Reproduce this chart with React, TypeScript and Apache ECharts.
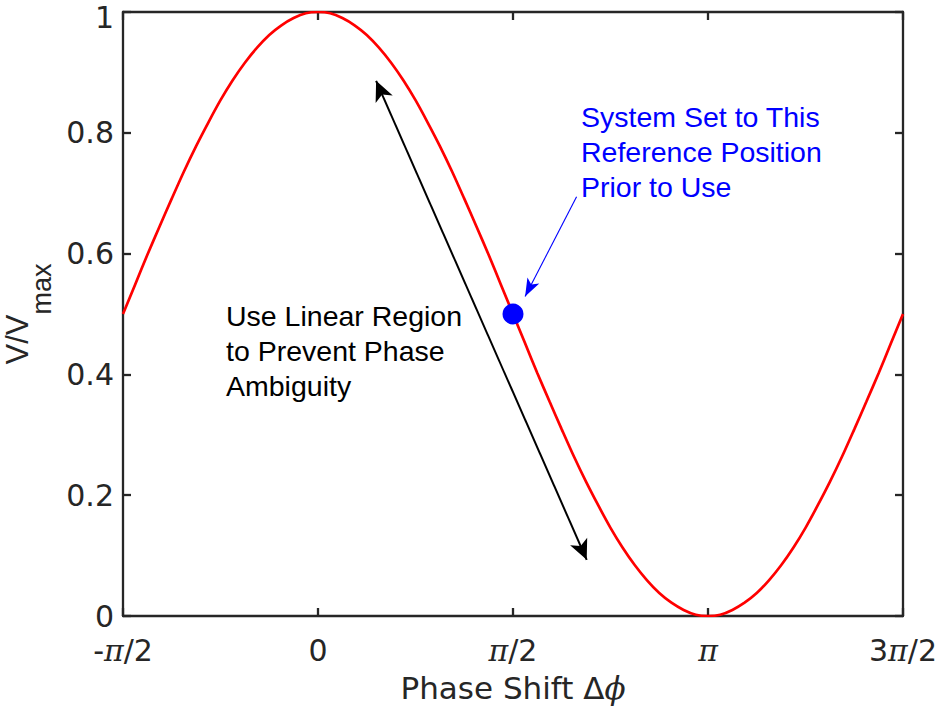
import React, { useEffect, useRef } from "react";
import * as echarts from "echarts";

// Phase shift (in units of π) and normalised voltage V/Vmax
const phase = [
  -0.5, -0.46875, -0.4375, -0.40625, -0.375, -0.34375, -0.3125, -0.28125,
  -0.25, -0.21875, -0.1875, -0.15625, -0.125, -0.09375, -0.0625, -0.03125,
  0, 0.03125, 0.0625, 0.09375, 0.125, 0.15625, 0.1875, 0.21875,
  0.25, 0.28125, 0.3125, 0.34375, 0.375, 0.40625, 0.4375, 0.46875,
  0.5, 0.53125, 0.5625, 0.59375, 0.625, 0.65625, 0.6875, 0.71875,
  0.75, 0.78125, 0.8125, 0.84375, 0.875, 0.90625, 0.9375, 0.96875,
  1, 1.03125, 1.0625, 1.09375, 1.125, 1.15625, 1.1875, 1.21875,
  1.25, 1.28125, 1.3125, 1.34375, 1.375, 1.40625, 1.4375, 1.46875, 1.5,
];
const vRatio = [
  0.5, 0.549, 0.598, 0.645, 0.691, 0.736, 0.778, 0.817,
  0.854, 0.887, 0.916, 0.941, 0.962, 0.978, 0.99, 0.998,
  1, 0.998, 0.99, 0.978, 0.962, 0.941, 0.916, 0.887,
  0.854, 0.817, 0.778, 0.736, 0.691, 0.645, 0.598, 0.549,
  0.5, 0.451, 0.402, 0.355, 0.309, 0.264, 0.222, 0.183,
  0.146, 0.113, 0.084, 0.059, 0.038, 0.022, 0.01, 0.002,
  0, 0.002, 0.01, 0.022, 0.038, 0.059, 0.084, 0.113,
  0.146, 0.183, 0.222, 0.264, 0.309, 0.355, 0.402, 0.451, 0.5,
];
const xTickValues = [-0.5, 0, 0.5, 1, 1.5];
const xTickLabels = ["-{pi|π}/2", "0", "{pi|π}/2", "{pi|π}", "3{pi|π}/2"];
const yTickLabels = ["0", "0.2", "0.4", "0.6", "0.8", "{top|1}"];
const referencePoint = [0.5, 0.5];
const linearArrow = [
  [0.149, 0.886],
  [0.689, 0.093],
];
const pointerArrow = [
  [0.663, 0.694],
  [0.531, 0.529],
];
const noteLinear = ["Use Linear Region", "to Prevent Phase", "Ambiguity"];
const noteReference = ["System Set to This", "Reference Position", "Prior to Use"];

const AXIS_COLOR = "#262626";
const TICK_FONT = "DejaVu Sans";
const NOTE_FONT = "Liberation Sans";

function xLabel(v: number): string {
  const i = xTickValues.findIndex((t) => Math.abs(t - v) < 1e-6);
  return i >= 0 ? xTickLabels[i] : "";
}
function yLabel(v: number): string {
  const i = Math.round(v / 0.2);
  return yTickLabels[i] ?? "";
}

export default function App() {
  const ref = useRef<HTMLDivElement>(null);
  useEffect(() => {
    document.body.style.margin = "0";
    if (!ref.current) return;
    const chart = echarts.init(ref.current, undefined, { renderer: "svg" });

    const axisLine = { show: true, onZero: false, lineStyle: { color: AXIS_COLOR, width: 2.3 } };
    const axisTick = { show: true, inside: true, length: 8, lineStyle: { color: AXIS_COLOR, width: 2.3 } };

    chart.setOption({
      animation: false,
      backgroundColor: "#ffffff",
      grid: { left: 123, right: 35, top: 12, bottom: 99, containLabel: false, outerBoundsMode: "none" },
      xAxis: [
        {
          type: "value",
          position: "bottom",
          min: -0.5,
          max: 1.5,
          interval: 0.5,
          axisLine,
          axisTick,
          splitLine: { show: false },
          axisLabel: {
            formatter: xLabel,
            fontFamily: TICK_FONT,
            fontSize: 30,
            color: AXIS_COLOR,
            margin: 19,
            rich: {
              pi: { fontFamily: "DejaVu Serif", fontStyle: "italic", fontSize: 30, color: AXIS_COLOR },
            },
          },
          name: "Phase Shift Δ{phi|ϕ}",
          nameLocation: "middle",
          nameGap: 56,
          nameTextStyle: {
            fontFamily: TICK_FONT,
            fontSize: 31,
            color: AXIS_COLOR,
            rich: {
              phi: { fontFamily: "DejaVu Serif", fontStyle: "italic", fontSize: 31, color: AXIS_COLOR },
            },
          },
        },
        {
          type: "value",
          position: "top",
          min: -0.5,
          max: 1.5,
          interval: 0.5,
          axisLine,
          axisTick,
          splitLine: { show: false },
          axisLabel: { show: false },
        },
      ],
      yAxis: [
        {
          type: "value",
          position: "left",
          min: 0,
          max: 1,
          interval: 0.2,
          axisLine,
          axisTick,
          splitLine: { show: false },
          axisLabel: {
            formatter: yLabel,
            fontFamily: TICK_FONT,
            fontSize: 30,
            lineHeight: 24,
            color: AXIS_COLOR,
            margin: 9,
            rich: {
              top: {
                fontFamily: TICK_FONT,
                fontSize: 30,
                lineHeight: 14,
                padding: [10, 0, 0, 0],
                color: AXIS_COLOR,
              },
            },
          },
          name: "{v|V/V}{sub|max}",
          nameLocation: "middle",
          nameRotate: 90,
          nameGap: 64,
          nameTextStyle: {
            color: AXIS_COLOR,
            rich: {
              v: { fontFamily: NOTE_FONT, fontSize: 31, lineHeight: 31, verticalAlign: "top", color: AXIS_COLOR },
              sub: {
                fontFamily: NOTE_FONT,
                fontSize: 27,
                lineHeight: 27,
                verticalAlign: "top",
                padding: [26, 0, 0, 0],
                color: AXIS_COLOR,
              },
            },
          },
        },
        {
          type: "value",
          position: "right",
          min: 0,
          max: 1,
          interval: 0.2,
          axisLine,
          axisTick,
          splitLine: { show: false },
          axisLabel: { show: false },
        },
      ],
      series: [
        {
          type: "line",
          data: phase.map((p, i) => [p, vRatio[i]]),
          smooth: 0.3,
          showSymbol: false,
          symbol: "none",
          silent: true,
          lineStyle: { color: "#ff0000", width: 2.7 },
          z: 3,
          markLine: {
            silent: true,
            symbol: ["arrow", "arrow"],
            symbolSize: [14, 20],
            label: { show: false },
            lineStyle: { color: "#000000", width: 2, type: "solid" },
            emphasis: { disabled: true },
            data: [[{ coord: linearArrow[0] }, { coord: linearArrow[1] }]],
          },
        },
        {
          type: "scatter",
          data: [referencePoint],
          symbol: "circle",
          symbolSize: 21,
          silent: true,
          itemStyle: { color: "#0000ff", opacity: 1 },
          z: 4,
          markLine: {
            silent: true,
            symbol: ["none", "arrow"],
            symbolSize: [10, 18],
            label: { show: false },
            lineStyle: { color: "#0000ff", width: 1.1, type: "solid", opacity: 1 },
            itemStyle: { opacity: 1 },
            emphasis: { disabled: true },
            data: [[{ coord: pointerArrow[0] }, { coord: pointerArrow[1] }]],
          },
        },
      ],
      graphic: [
        {
          type: "text",
          left: 226,
          top: 298,
          silent: true,
          style: {
            text: noteLinear.join("\n"),
            fontFamily: NOTE_FONT,
            fontSize: 28.5,
            lineHeight: 35,
            fill: "#000000",
          },
        },
        {
          type: "text",
          left: 581,
          top: 99,
          silent: true,
          style: {
            text: noteReference.join("\n"),
            fontFamily: NOTE_FONT,
            fontSize: 28.5,
            lineHeight: 35,
            fill: "#0000ff",
          },
        },
      ],
    });
    return () => chart.dispose();
  }, []);
  return <div ref={ref} style={{ width: 938, height: 715 }} />;
}
